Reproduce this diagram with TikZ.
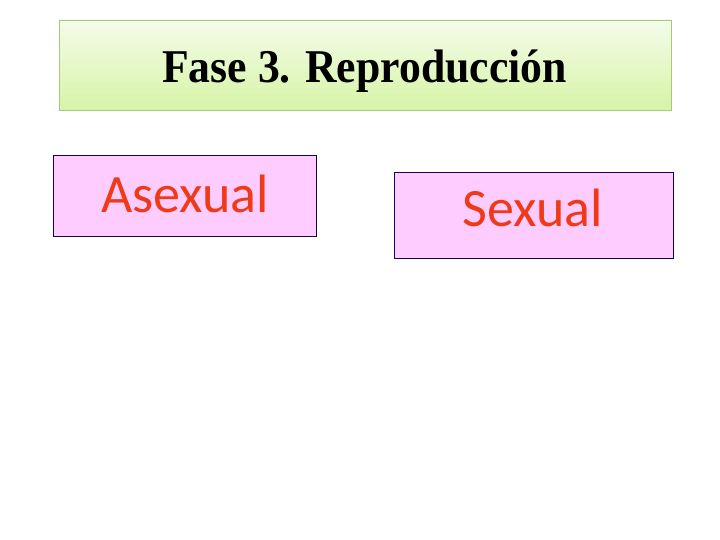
\documentclass[tikz,border=0pt]{standalone}
\usepackage{fontspec}
\setmainfont{Liberation Serif}
\newfontfamily\calib{Carlito}
\definecolor{titleborder}{HTML}{A8C880}
\definecolor{titletop}{HTML}{F4FCEA}
\definecolor{titlebot}{HTML}{D6F4A6}
\definecolor{pinkfill}{HTML}{FFCCFF}
\definecolor{navyborder}{HTML}{1A0050}
\definecolor{redtext}{HTML}{F03A17}
\begin{document}
\begin{tikzpicture}[x=1pt,y=-1pt,
  titlebox/.style={draw=titleborder, line width=0.8pt, top color=titletop, bottom color=titlebot},
  pinkbox/.style={draw=navyborder, line width=1pt, fill=pinkfill},
  label/.style={text=redtext, font=\calib\fontsize{54}{60}\selectfont, inner sep=0pt, anchor=base}]
\useasboundingbox (0,0) rectangle (720,540);
\path[titlebox] (59,20) rectangle (671,110);
\node[inner sep=0pt, anchor=base] (title) at (364.5,83) {\scalebox{0.93}[1]{\fontsize{47}{52}\selectfont\bfseries Fase 3. Reproducción}};
\node[pinkbox, minimum width=263pt, minimum height=80pt, inner sep=0pt] (asex) at (184.5,196) {};
\node[label] (asextext) at (185,212) {Asexual};
\node[pinkbox, minimum width=279pt, minimum height=85pt, inner sep=0pt] (sex) at (533.5,215.5) {};
\node[label] (sextext) at (533,226) {Sexual};
\end{tikzpicture}
\end{document}
